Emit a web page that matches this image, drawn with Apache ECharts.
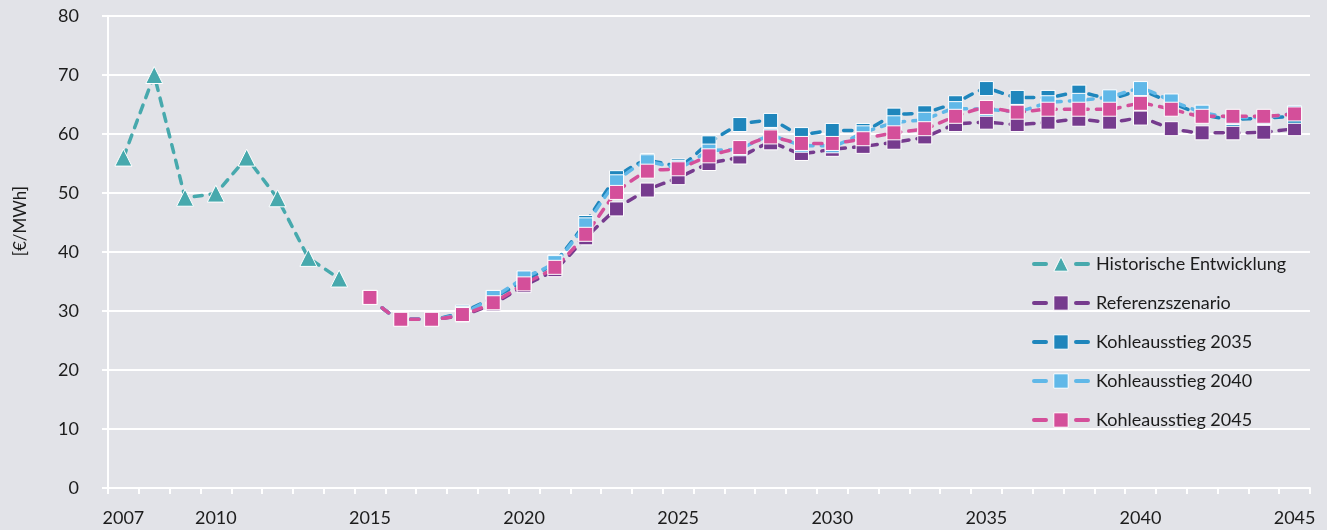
<!DOCTYPE html>
<html>
<head>
<meta charset="utf-8">
<script src="https://cdn.jsdelivr.net/npm/echarts@6/dist/echarts.min.js"></script>
<style>
html,body{margin:0;padding:0;background:#e2e3e8;}
#c{width:1327px;height:530px;}
</style>
</head>
<body>
<div id="c"></div>
<script>
const years = [];
for (let y = 2007; y <= 2045; y++) years.push(String(y));

const historic = [56, 70, 49.2, 49.9, 56, 49.1, 39, 35.5];

const referenz = [32.3, 28.6, 28.6, 29.3, 31.2, 34.3, 37.0, 42.4, 47.3, 50.5, 52.6, 55.0, 56.1, 58.5, 56.7, 57.4, 57.9, 58.6, 59.5, 61.6,
  62.0, 61.6, 62.0, 62.5, 62.0, 62.7, 60.9, 60.2, 60.2, 60.3, 60.9];
const kohle2035 = [32.3, 28.6, 28.6, 29.8, 32.3, 35.0, 38.3, 45.0, 52.6, 55.5, 54.6, 58.5, 61.6, 62.3, 59.9, 60.6, 60.6, 63.2, 63.6, 65.3,
  67.7, 66.2, 66.2, 67.1, 66.0, 67.3, 65.3, 63.3, 62.5, 62.7, 63.0];
const kohle2040 = [32.3, 28.6, 28.6, 29.6, 32.3, 35.6, 38.2, 44.6, 51.9, 55.3, 54.3, 57.1, 57.5, 59.7, 58.1, 58.0, 60.2, 61.9, 62.5, 64.3,
  64.2, 63.8, 65.3, 65.7, 66.3, 67.7, 65.6, 63.7, 62.8, 62.8, 63.6];
const kohle2045 = [32.3, 28.6, 28.6, 29.4, 31.4, 34.6, 37.4, 43.0, 50.1, 53.7, 54.1, 56.3, 57.7, 59.5, 58.4, 58.4, 59.2, 60.2, 60.9, 63.0,
  64.5, 63.7, 64.2, 64.2, 64.2, 65.2, 64.2, 63.0, 63.0, 63.0, 63.4];

const yTicks = [0, 10, 20, 30, 40, 50, 60, 70, 80];

const names = ['Historische Entwicklung', 'Referenzszenario', 'Kohleausstieg 2035', 'Kohleausstieg 2040', 'Kohleausstieg 2045'];
const colors = ['#47a9ad', '#763b8e', '#1f86bc', '#60b8e8', '#d44f9a'];

function pad(arr, startYear) {
  const out = years.map(() => null);
  const off = startYear - 2007;
  arr.forEach((v, i) => { out[off + i] = v; });
  return out;
}

const font = 'Lato, "Noto Sans", sans-serif';
const chart = echarts.init(document.getElementById('c'), null, {renderer: 'canvas'});

function lineSeries(name, data, color, symbol, size, smooth) {
  return {
    name: name,
    type: 'line',
    data: data,
    connectNulls: false,
    smooth: smooth,
    symbol: symbol,
    symbolSize: size,
    showAllSymbol: true,
    itemStyle: {color: color, borderColor: '#ffffff', borderWidth: 1},
    lineStyle: {color: color, width: 3.5, type: [8, 8], cap: 'round'},
    emphasis: {disabled: true},
    z: 2
  };
}

chart.setOption({
  backgroundColor: '#e2e3e8',
  animation: false,
  color: colors,
  textStyle: {fontFamily: font},
  grid: {left: 108, right: 17, top: 16, bottom: 42, containLabel: false},
  legend: {
    orient: 'vertical',
    left: 1027,
    top: 250,
    itemWidth: 54,
    itemHeight: 18,
    itemGap: 21,
    data: names,
    lineStyle: {width: 4, type: [12, 30], cap: 'round'},
    itemStyle: {borderColor: '#ffffff', borderWidth: 1},
    textStyle: {fontFamily: font, fontSize: 18, color: '#1c1c1c', padding: [0, 0, 0, 3]}
  },
  xAxis: {
    type: 'category',
    data: years,
    boundaryGap: true,
    axisLine: {lineStyle: {color: '#ffffff', width: 2}},
    axisTick: {show: true, interval: 0, length: 6, lineStyle: {color: '#ffffff', width: 2}},
    axisLabel: {
      interval: function (i, v) { return v === '2007' || Number(v) % 5 === 0; },
      margin: 21,
      fontFamily: font,
      fontSize: 18,
      color: '#1c1c1c'
    },
    splitLine: {show: false}
  },
  yAxis: {
    type: 'value',
    min: yTicks[0],
    max: yTicks[yTicks.length - 1],
    interval: 10,
    axisLine: {show: true, lineStyle: {color: '#ffffff', width: 2}},
    axisTick: {show: true, length: 6, lineStyle: {color: '#ffffff', width: 2}},
    axisLabel: {margin: 29, fontFamily: font, fontSize: 18, color: '#1c1c1c'},
    splitLine: {show: true, lineStyle: {color: '#ffffff', width: 2}}
  },
  graphic: [{
    type: 'text',
    left: 12,
    top: 186,
    rotation: Math.PI / 2,
    style: {text: '[€/MWh]', fontFamily: font, fontSize: 17, fill: '#1c1c1c'}
  }],
  series: [
    lineSeries(names[0], pad(historic, 2007), colors[0], 'triangle', 17, false),
    lineSeries(names[1], pad(referenz, 2015), colors[1], 'rect', 14, 0.2),
    lineSeries(names[2], pad(kohle2035, 2015), colors[2], 'rect', 14, 0.2),
    lineSeries(names[3], pad(kohle2040, 2015), colors[3], 'rect', 14, 0.2),
    lineSeries(names[4], pad(kohle2045, 2015), colors[4], 'rect', 14, 0.2)
  ]
});
</script>
</body>
</html>
